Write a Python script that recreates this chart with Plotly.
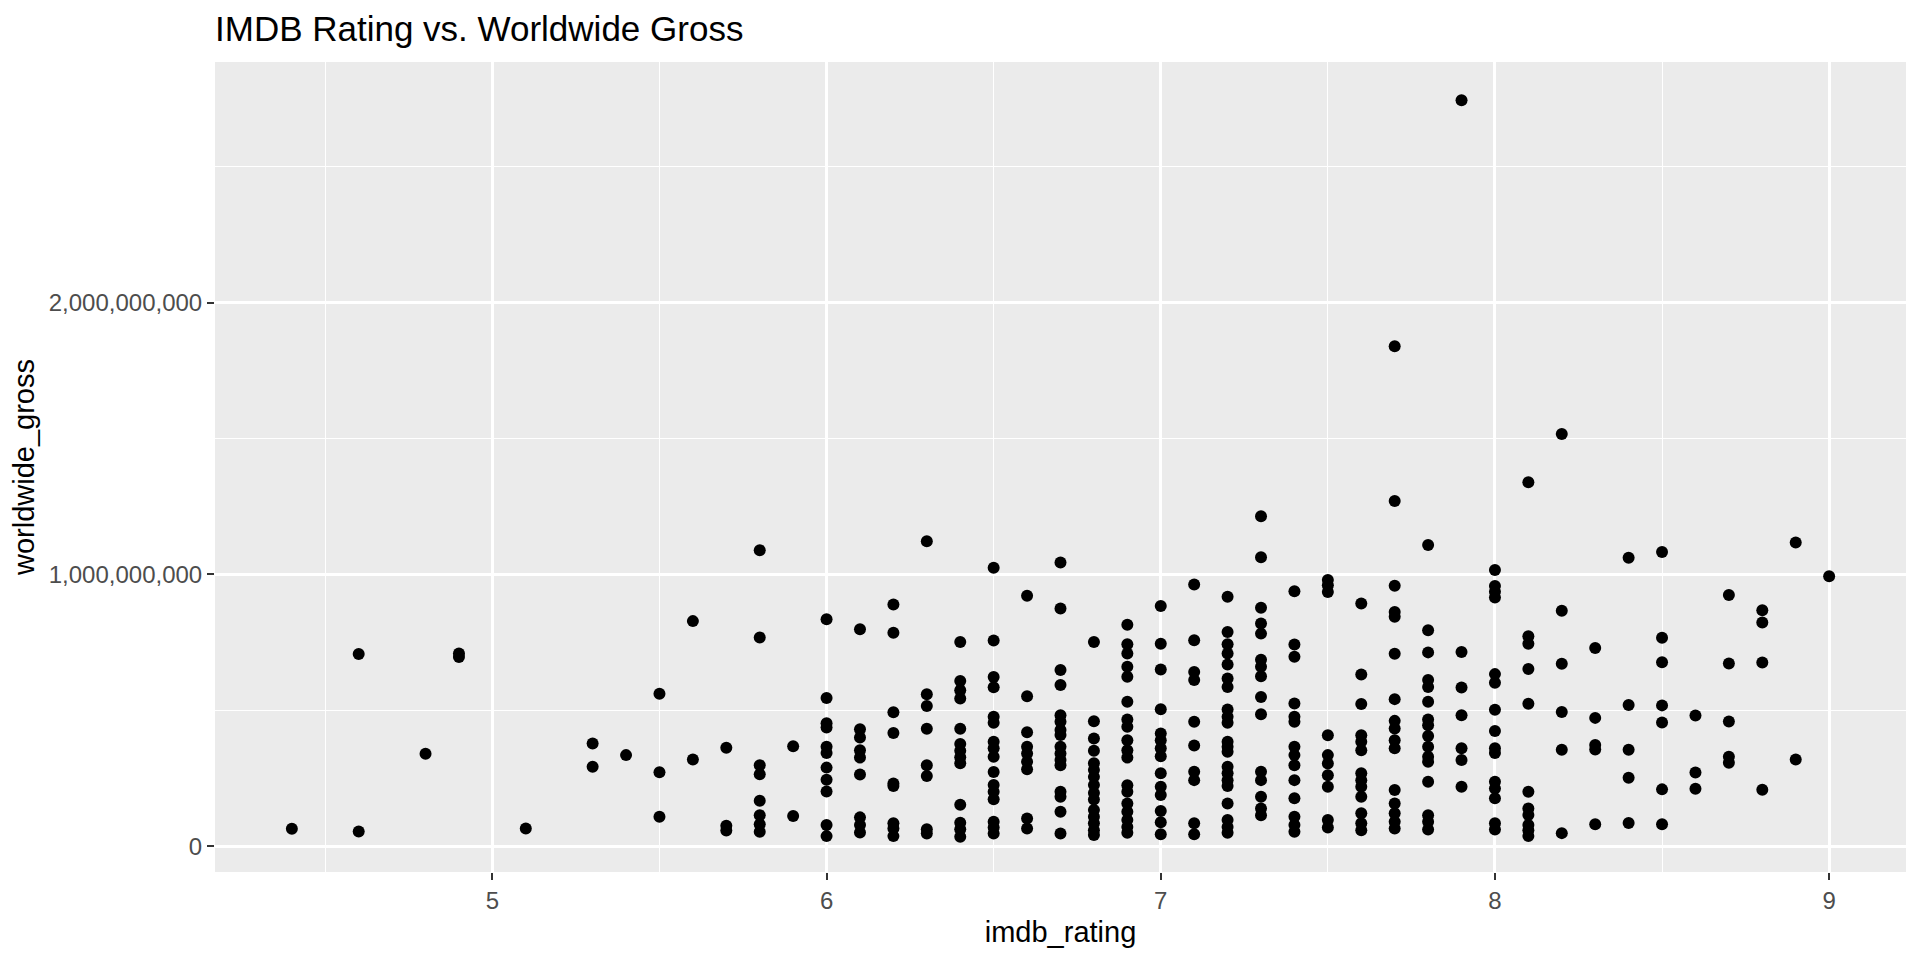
import plotly.graph_objects as go

# IMDB rating levels and the worldwide gross (in millions of dollars) of every film at that rating
rating_levels = [4.4, 4.6, 4.8, 4.9, 5.1, 5.3, 5.4, 5.5, 5.6, 5.7, 5.8, 5.9,
                 6.0, 6.1, 6.2, 6.3, 6.4, 6.5, 6.6, 6.7, 6.8, 6.9,
                 7.0, 7.1, 7.2, 7.3, 7.4, 7.5, 7.6, 7.7, 7.8, 7.9,
                 8.0, 8.1, 8.2, 8.3, 8.4, 8.5, 8.6, 8.7, 8.8, 8.9, 9.0]

gross_millions = [
    [64],
    [707, 54],
    [340],
    [709, 696],
    [65],
    [378, 292],
    [335],
    [561, 272, 108],
    [828, 319],
    [362, 75, 58],
    [1089, 768, 298, 265, 167, 114, 81, 53],
    [368, 111],
    [835, 545, 452, 437, 366, 343, 289, 244, 201, 78, 37],
    [798, 430, 400, 353, 326, 264, 106, 78, 50],
    [889, 785, 493, 416, 231, 221, 84, 65, 37],
    [1122, 559, 516, 432, 298, 258, 62, 47],
    [751, 608, 574, 543, 432, 376, 351, 327, 305, 152, 86, 62, 35],
    [1024, 757, 622, 585, 476, 454, 384, 360, 329, 273, 225, 200, 173, 90, 69, 47],
    [921, 552, 419, 366, 341, 311, 283, 102, 65],
    [1044, 874, 648, 593, 482, 458, 427, 409, 366, 341, 317, 298, 200, 182, 127, 47],
    [751, 460, 396, 351, 305, 280, 255, 225, 196, 172, 133, 108, 84, 59, 41],
    [815, 743, 709, 660, 623, 531, 466, 439, 390, 353, 326, 224, 200, 157, 127, 96, 71, 49],
    [884, 745, 650, 504, 415, 390, 360, 331, 268, 219, 188, 129, 88, 44],
    [963, 758, 641, 611, 458, 370, 274, 243, 84, 44],
    [918, 788, 743, 709, 668, 617, 586, 503, 476, 454, 384, 366, 347, 292, 268, 243, 221, 157, 96, 71, 49],
    [1214, 1063, 877, 819, 782, 686, 660, 625, 549, 485, 274, 243, 182, 139, 114],
    [938, 742, 697, 525, 476, 458, 366, 335, 298, 243, 176, 108, 78, 53],
    [979, 960, 935, 408, 335, 304, 261, 219, 96, 69],
    [893, 632, 523, 408, 384, 353, 268, 243, 219, 182, 121, 84, 59],
    [1839, 1270, 958, 862, 844, 708, 541, 461, 433, 390, 360, 207, 157, 121, 90, 65],
    [1108, 794, 713, 611, 586, 531, 466, 445, 405, 366, 329, 311, 237, 114, 90, 61],
    [2744, 714, 584, 482, 360, 317, 219],
    [1016, 957, 936, 915, 633, 601, 502, 424, 360, 343, 237, 212, 176, 84, 61],
    [1339, 772, 745, 652, 524, 200, 139, 115, 78, 59, 37],
    [1516, 866, 671, 494, 355, 48],
    [729, 472, 372, 356, 81],
    [1061, 519, 355, 252, 85],
    [1082, 767, 677, 518, 455, 209, 81],
    [481, 271, 211],
    [924, 672, 459, 329, 307],
    [868, 823, 676, 208],
    [1117, 319],
    [993],
]

x_ticks = [5, 6, 7, 8, 9]
x_minor = [4.5, 5.5, 6.5, 7.5, 8.5]
y_ticks = [0, 1e9, 2e9]
y_tick_labels = ["0", "1,000,000,000", "2,000,000,000"]
y_minor = [5e8, 1.5e9, 2.5e9]

imdb_rating = []
worldwide_gross = []
for r, vals in zip(rating_levels, gross_millions):
    for v in vals:
        imdb_rating.append(r)
        worldwide_gross.append(v * 1e6)

FONT = "Liberation Sans, Arial, Helvetica, sans-serif"

fig = go.Figure(
    go.Scatter(
        x=imdb_rating,
        y=worldwide_gross,
        mode="markers",
        marker=dict(color="black", size=12, line=dict(width=0)),
        hoverinfo="x+y",
    )
)

axis_common = dict(
    showline=False,
    zeroline=False,
    automargin=False,
    ticks="outside",
    ticklen=7,
    tickwidth=1.6,
    tickcolor="#333333",
    gridcolor="white",
    gridwidth=2.6,
    tickfont=dict(family=FONT, size=24, color="#4D4D4D"),
)

fig.update_layout(
    width=1920,
    height=960,
    autosize=False,
    paper_bgcolor="white",
    plot_bgcolor="#EBEBEB",
    margin=dict(l=215, r=14, t=62, b=88),
    showlegend=False,
    font=dict(family=FONT, color="black"),
    title=dict(
        text="IMDB Rating vs. Worldwide Gross",
        font=dict(family=FONT, size=35, color="black"),
        xref="paper",
        x=0,
        xanchor="left",
        yref="container",
        y=1 - 29 / 960,
        yanchor="middle",
    ),
    xaxis=dict(
        **axis_common,
        range=[4.17, 9.23],
        tickvals=x_ticks,
        ticktext=[str(t) for t in x_ticks],
        minor=dict(tickvals=x_minor, showgrid=True, gridcolor="white", gridwidth=1.3, ticks=""),
        title=dict(text="imdb_rating", font=dict(family=FONT, size=29, color="black"), standoff=8),
    ),
    yaxis=dict(
        **axis_common,
        range=[-0.095e9, 2.885e9],
        tickvals=y_ticks,
        ticktext=y_tick_labels,
        minor=dict(tickvals=y_minor, showgrid=True, gridcolor="white", gridwidth=1.3, ticks=""),
        title=dict(text="worldwide_gross", font=dict(family=FONT, size=29, color="black"), standoff=5),
    ),
)

fig.write_html(
    "out.html",
    config={"displayModeBar": False},
    post_script="document.body.style.margin='0';document.body.style.padding='0';",
)
